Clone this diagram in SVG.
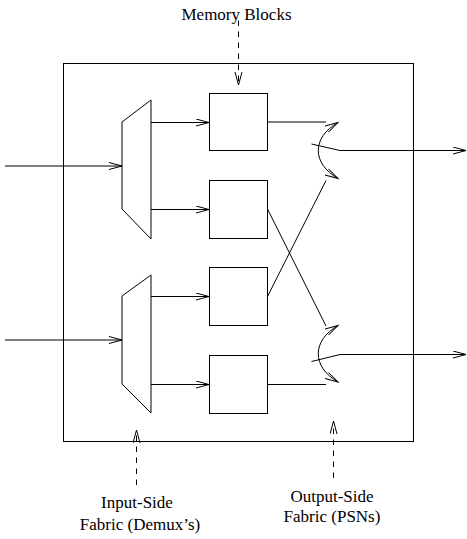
<svg xmlns="http://www.w3.org/2000/svg" width="467" height="539" viewBox="0 0 467 539">
<style>
.s{fill:none;stroke:#000;stroke-width:1}
.b{fill:#fff;stroke:#000;stroke-width:1}
.a{fill:none;stroke:#000;stroke-width:1;marker-end:url(#ah)}
.w{fill:none;stroke:#000;stroke-width:1;marker-start:url(#ah);marker-end:url(#ah)}
.d{fill:none;stroke:#000;stroke-width:1;stroke-dasharray:5.5 5.5;marker-end:url(#ah)}
.t{font-family:"Liberation Serif","Times New Roman",serif;font-size:17px;fill:#000;text-anchor:middle}
</style>
<defs>
<marker id="ah" markerWidth="16" markerHeight="10" refX="13" refY="4" orient="auto-start-reverse" markerUnits="userSpaceOnUse">
<path d="M0,0.5 L13,4 L0,7.5" fill="none" stroke="#000" stroke-width="1"/>
</marker>
</defs>
<g id="frame"><rect class="s" x="63.5" y="63.5" width="350" height="378"/></g>
<g id="demux1"><polygon class="b" points="122,122 151,100 151,239 122,209"/></g>
<g id="demux2"><polygon class="b" points="122,296 151,275 151,413 122,384"/></g>
<g id="mem1"><rect class="b" x="209.5" y="93.5" width="58" height="57"/></g>
<g id="mem2"><rect class="b" x="209.5" y="180.5" width="58" height="58"/></g>
<g id="mem3"><rect class="b" x="209.5" y="267.5" width="58" height="58"/></g>
<g id="mem4"><rect class="b" x="209.5" y="355.5" width="58" height="58"/></g>
<g id="psn1">
<path class="w" d="M338,122.5 C311.7,137.6 311.7,163.4 338,178.5"/>
<path class="s" d="M311.5,144 L340,150.5"/>
</g>
<g id="psn2">
<path class="w" d="M338,325.5 C311.7,340.6 311.7,366.9 338,382"/>
<path class="s" d="M311.5,361.5 L340,354.5"/>
</g>
<g id="connectors">
<path class="a" d="M5,166 L122,166"/>
<path class="a" d="M5,340 L122,340"/>
<path class="a" d="M151,122.5 L209,122.5"/>
<path class="a" d="M151,209.5 L209,209.5"/>
<path class="a" d="M151,296.5 L209,296.5"/>
<path class="a" d="M151,384.5 L209,384.5"/>
<path class="s" d="M267.5,122 L326,122"/>
<path class="s" d="M267.5,384.5 L326,384.5"/>
<path class="s" d="M267.5,209 L326,326"/>
<path class="s" d="M267.5,296.5 L326,180.5"/>
<path class="a" d="M340,150.5 L466,150.5"/>
<path class="a" d="M340,354.5 L466,354.5"/>
<path class="d" d="M238.5,20.5 L238.5,85"/>
<path class="d" d="M136.5,485 L136.5,430"/>
<path class="d" d="M333.5,478 L333.5,421"/>
</g>
<g id="labels">
<text class="t" x="236.5" y="20">Memory Blocks</text>
<text class="t" x="137" y="508">Input-Side</text>
<text class="t" x="140" y="530">Fabric (Demux’s)</text>
<text class="t" x="332" y="501.5">Output-Side</text>
<text class="t" x="332" y="522">Fabric (PSNs)</text>
</g>
</svg>
